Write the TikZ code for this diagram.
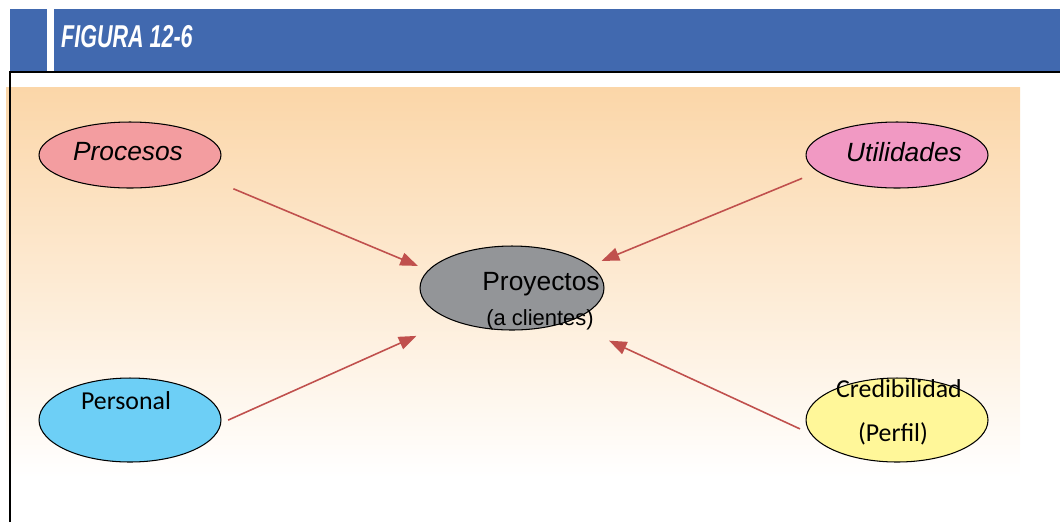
\documentclass[tikz,border=0pt]{standalone}
\usepackage{graphicx}
\usepackage{fontspec}
\setmainfont{Liberation Sans}
\newfontfamily\calibri{Carlito}
\usetikzlibrary{arrows.meta, shapes.geometric}

\definecolor{bluebar}{RGB}{65,105,175}
\definecolor{peach}{RGB}{251,214,168}
\definecolor{peachlight}{RGB}{253,236,220}
\definecolor{arrowred}{RGB}{192,80,77}
\definecolor{procfill}{RGB}{243,157,160}
\definecolor{utilfill}{RGB}{241,153,195}
\definecolor{proyfill}{RGB}{147,149,152}
\definecolor{persfill}{RGB}{109,207,246}
\definecolor{credfill}{RGB}{255,247,153}

\begin{document}
\begin{tikzpicture}[x=0.02cm, y=-0.02cm]
      \tikzset{blob/.style = {shape=ellipse,draw,line width=0.6pt,inner sep=0pt,minimum width=3.64cm}}
      \tikzset{edge/.style = {->,> = {Triangle[length=10pt,width=7.5pt]},draw=arrowred,fill=arrowred,line width=0.9pt}}
      \useasboundingbox (0,0) rectangle (1060,522);

      % cabecera
      \fill[bluebar] (10,9) rectangle (47,72);
      \fill[bluebar] (54,9) rectangle (1060,72);
      \node[anchor=west,text=white,font=\bfseries\itshape\fontsize{18}{18}\selectfont] (title) at (55,37) {\scalebox{0.68}[1]{FIGURA 12-6}};

      % fondo
      \shade[top color=peach,middle color=peachlight,bottom color=white] (6,87) rectangle (1020,478);
      \draw[line width=1.1pt] (10,522) -- (10,72) -- (1060,72);

      \node[blob,fill=procfill,minimum height=1.32cm] (proc) at (130,155) {};
      \node[blob,fill=utilfill,minimum height=1.32cm] (util) at (897,155) {};
      \node[blob,fill=proyfill,minimum width=3.68cm,minimum height=1.68cm] (proy) at (512,288) {};
      \node[blob,fill=persfill,minimum height=1.68cm] (pers) at (130,420) {};
      \node[blob,fill=credfill,minimum height=1.68cm] (cred) at (897,420) {};

      \node[font=\itshape\fontsize{15}{15}\selectfont] (t-proc) at (128,152) {Procesos};
      \node[font=\itshape\fontsize{15}{15}\selectfont] (t-util) at (904,152) {Utilidades};
      \node[font=\fontsize{15}{15}\selectfont] (t-proy) at (541,284) {Proyectos};
      \node[font=\fontsize{12.5}{12.5}\selectfont] (t-proy2) at (540,320) {(a clientes)};
      \node[font=\calibri\fontsize{14.7}{14.7}\selectfont] (t-pers) at (126,401) {Personal};
      \node[font=\calibri\fontsize{14.7}{14.7}\selectfont] (t-cred) at (899,389) {Credibilidad};
      \node[font=\calibri\fontsize{14.7}{14.7}\selectfont] (t-cred2) at (893,434) {(Perfil)};

      \draw[edge,shorten <=0.68cm,shorten >=0.22cm] (proc.-16) to (proy.168);
      \draw[edge,shorten <=0.34cm,shorten >=0.24cm] (util.192.6) to (proy.16.3);
      \draw[edge,shorten <=0.15cm,shorten >=0.77cm] (pers.-2.3) to (proy.208);
      \draw[edge,shorten <=0.23cm,shorten >=0.9cm] (cred.189.4) to (proy.-31.2);
    \end{tikzpicture}
\end{document}
